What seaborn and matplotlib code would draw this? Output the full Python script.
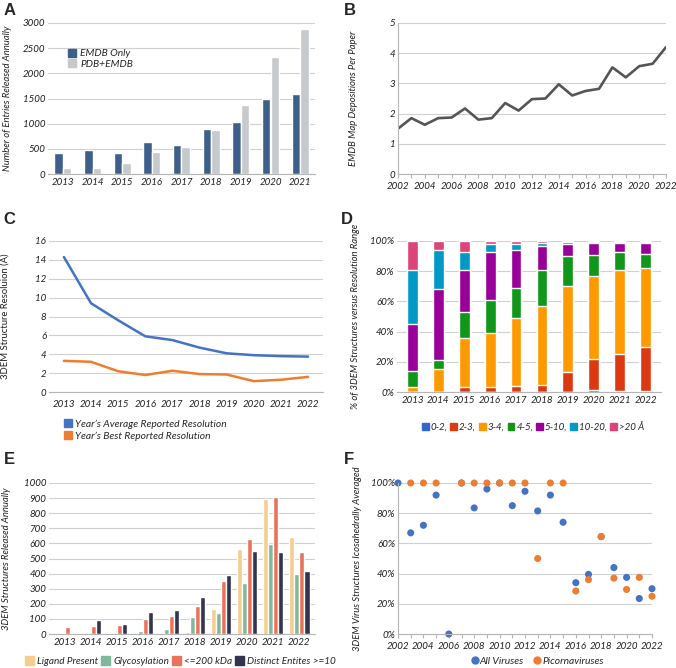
import numpy as np
import pandas as pd
import matplotlib
matplotlib.use("Agg")
import matplotlib.pyplot as plt
import seaborn as sns
from matplotlib.patches import Patch
from matplotlib.lines import Line2D
from matplotlib.ticker import FuncFormatter

sns.set_theme(style="white")
plt.rcParams['font.family'] = ['Lato', 'DejaVu Sans']

# ---------------- data ----------------
years_a = ["2013", "2014", "2015", "2016", "2017", "2018", "2019", "2020", "2021"]
emdb_only = [420, 480, 410, 630, 570, 890, 1040, 1490, 1590]
pdb_emdb = [110, 120, 220, 430, 530, 870, 1380, 2320, 2890]

years_b = list(range(2002, 2023))
dep_per_paper = [1.5, 1.85, 1.63, 1.85, 1.87, 2.17, 1.8, 1.85, 2.35, 2.1, 2.48,
                 2.5, 2.97, 2.6, 2.75, 2.82, 3.53, 3.2, 3.57, 3.65, 4.2]

years_c = list(range(2013, 2023))
avg_res = [14.3, 9.4, 7.6, 5.9, 5.5, 4.7, 4.1, 3.9, 3.8, 3.75]
best_res = [3.3, 3.2, 2.2, 1.8, 2.25, 1.9, 1.85, 1.15, 1.3, 1.6]

years_d = [str(y) for y in range(2013, 2023)]
res_labels = ["0-2,", "2-3,", "3-4,", "4-5,", "5-10,", "10-20,", ">20 Å"]
r0_2 = [0, 0, 0, 0, 0, 0, 0, 1, 0.5, 0.5]
r2_3 = [0, 0, 3, 3, 4, 4.5, 13, 21, 24.5, 29.5]
r3_4 = [3, 15, 33, 36, 45, 52.5, 57, 55, 56, 52]
r4_5 = [11, 6, 17, 22, 20, 24, 20, 13.5, 11.5, 9.5]
r5_10 = [31, 47, 28, 32, 25, 16, 8, 8, 6, 7.5]
r10_20 = [36, 26, 12, 5, 4, 2, 1.5, 1, 1, 0.5]
r20 = [19, 6, 7, 2, 2, 1, 0.5, 0.5, 0.5, 0.5]

years_e = [str(y) for y in range(2013, 2023)]
ligand = [0, 0, 0, 0, 0, 15, 168, 565, 893, 642]
glyco = [0, 0, 5, 18, 33, 110, 140, 338, 597, 398]
small200 = [45, 50, 62, 100, 117, 187, 350, 630, 908, 543]
distinct10 = [8, 90, 68, 145, 160, 245, 388, 548, 540, 418]

years_f = list(range(2002, 2023))
all_viruses = [100, 67, 72, 92, 0, 100, 83.5, 96, 100, 85, 94.5, 81.5, 92, 74,
               34, 39.5, 64.5, 44, 37.5, 23.5, 30]
picorna = [np.nan, 100, 100, 100, np.nan, 100, 100, 100, 100, 100, 100, 50, 100, 100,
           28.5, 36, 64.5, 37, 29.5, 37.5, 25]

# ---------------- layout ----------------
W, H = 676, 668
fig = plt.figure(figsize=(W / 100, H / 100), dpi=100)


def add_ax(l, r, t, b):
    return fig.add_axes([l / W, 1 - b / H, (r - l) / W, (b - t) / H])


FS = 7
LFS = 6.8
LEGFS = 7
GRID = '#d0d0d0'
SPINE = '#b5b5b5'
TXT = '#1e1e1e'


def style(ax, left_spine=False):
    ax.set_axisbelow(True)
    ax.yaxis.grid(True, color=GRID, lw=0.8)
    ax.xaxis.grid(False)
    for s in ['top', 'right']:
        ax.spines[s].set_visible(False)
    ax.spines['left'].set_visible(left_spine)
    ax.spines['left'].set_color(SPINE)
    ax.spines['bottom'].set_color(SPINE)
    ax.spines['bottom'].set_linewidth(0.8)
    ax.spines['left'].set_linewidth(0.8)
    ax.tick_params(axis='both', labelsize=FS, pad=2, length=0, colors=TXT)
    ax.tick_params(axis='x', pad=3)
    for lbl in ax.get_xticklabels() + ax.get_yticklabels():
        lbl.set_fontstyle('italic')


def ylab(ax, text, x, italic=True):
    ax.set_ylabel(text, fontsize=LFS, fontstyle='italic' if italic else 'normal', color=TXT)
    ax.yaxis.set_label_coords(x, 0.5)


# ---------- A ----------
axA = add_ax(48, 315, 23, 174)
dfA = pd.DataFrame({
    'year': years_a * 2,
    'value': emdb_only + pdb_emdb,
    'series': ['EMDB Only'] * len(years_a) + ['PDB+EMDB'] * len(years_a),
})
sns.barplot(data=dfA, x='year', y='value', hue='series', palette=['#3d5f8a', '#c6c9cd'],
            width=0.58, saturation=1, ax=axA, legend=False)
axA.set_ylim(0, 3000)
axA.set_yticks(range(0, 3001, 500))
axA.set_xlim(-0.5, 8.5)
axA.set_xlabel('')
style(axA)
ylab(axA, 'Number of Entries Released Annually', -0.135)
axA.legend(handles=[Patch(color='#3d5f8a', label='EMDB Only'), Patch(color='#c6c9cd', label='PDB+EMDB')],
           loc='upper left', bbox_to_anchor=(0.04, 0.89), frameon=False,
           handlelength=0.8, handleheight=0.8, handletextpad=0.4, labelspacing=0.1,
           prop={'style': 'italic', 'size': LEGFS + 0.4})

# ---------- B ----------
axB = add_ax(398, 666, 23, 174)
sns.lineplot(x=years_b, y=dep_per_paper, color='#555555', lw=1.9, ax=axB)
axB.set_ylim(0, 5)
axB.set_xlim(2002, 2022)
axB.set_xticks(range(2002, 2023, 2))
axB.set_yticks(range(0, 6))
style(axB, left_spine=True)
axB.set_xticks(range(2002, 2023, 1), minor=True)
axB.tick_params(axis='x', which='both', length=3, color=SPINE, width=0.8, bottom=True)
ylab(axB, 'EMDB Map Depositions Per Paper', -0.149)

# ---------- C ----------
axC = add_ax(49, 323, 241, 392)
dfC = pd.DataFrame({
    'year': years_c * 2,
    'res': avg_res + best_res,
    'series': ["Year's Average Reported Resolution"] * 10 + ["Year's Best Reported Resolution"] * 10,
})
sns.lineplot(data=dfC, x='year', y='res', hue='series', palette=['#4472c4', '#ed7d31'],
             lw=1.8, ax=axC, legend=False)
axC.set_xlim(2012.45, 2022.55)
axC.set_xticks(years_c)
axC.set_ylim(0, 16)
axC.set_yticks(range(0, 17, 2))
axC.set_xlabel('')
style(axC)
axC.tick_params(axis='x', length=3, color=SPINE, width=0.8)
ylab(axC, '3DEM Structure Resoluion (Å)', -0.142, italic=False)
axC.legend(handles=[Patch(color='#4472c4', label="Year\u2019s Average Reported Resolution"),
                    Patch(color='#ed7d31', label="Year\u2019s Best Reported Resolution")],
           loc='upper left', bbox_to_anchor=(0.02, -0.12), frameon=False,
           handlelength=0.8, handleheight=0.8, handletextpad=0.3, labelspacing=0.25,
           prop={'style': 'italic', 'size': LEGFS + 0.4})

# ---------- D ----------
axD = add_ax(397, 661, 241, 392)
cols_d = ['#3366cc', '#dc3912', '#ff9900', '#109618', '#990099', '#0099c6', '#dd4477']
series_d = [r0_2, r2_3, r3_4, r4_5, r5_10, r10_20, r20]
cum = np.cumsum(np.array(series_d), axis=0)
for k in range(len(series_d) - 1, -1, -1):
    sns.barplot(x=years_d, y=cum[k], color=cols_d[k], width=0.42, saturation=1, ax=axD)
axD.set_ylim(0, 100)
axD.set_xlim(-0.6, 9.6)
axD.set_yticks(range(0, 101, 20))
axD.yaxis.set_major_formatter(FuncFormatter(lambda v, p: f"{int(v)}%"))
style(axD)
ylab(axD, '% of 3DEM Structures versus Resolution Range', -0.14)
axD.legend(handles=[Patch(color=c, label=l) for c, l in zip(cols_d, res_labels)],
           loc='center', bbox_to_anchor=(0.515, -0.235), frameon=False, ncol=7,
           handlelength=0.7, handleheight=0.7, handletextpad=0.2, columnspacing=0.3,
           prop={'style': 'italic', 'size': LEGFS})

# ---------- E ----------
axE = add_ax(49, 315, 483, 634)
names_e = ['Ligand Present', 'Glycosylation', '<=200 kDa', 'Distinct Entites >=10']
cols_e = ['#f5cd8e', '#7fb89a', '#e8735a', '#33344f']
dfE = pd.DataFrame({
    'year': years_e * 4,
    'value': ligand + glyco + small200 + distinct10,
    'series': sum([[n] * 10 for n in names_e], []),
})
sns.barplot(data=dfE, x='year', y='value', hue='series', hue_order=names_e, palette=cols_e,
            width=0.78, saturation=1, ax=axE, legend=False)
axE.set_ylim(0, 1000)
axE.set_yticks(range(0, 1001, 100))
axE.set_xlim(-0.6, 9.6)
axE.set_xlabel('')
style(axE)
ylab(axE, '3DEM Structures Released Annually', -0.143)
axE.legend(handles=[Patch(color=c, label=l) for c, l in zip(cols_e, names_e)],
           loc='center', bbox_to_anchor=(0.495, -0.18), frameon=False, ncol=4,
           handlelength=0.9, handleheight=0.9, handletextpad=0.3, columnspacing=0.3,
           prop={'style': 'italic', 'size': LEGFS + 0.2})

# ---------- F ----------
axF = add_ax(398, 652, 483, 634)
sns.scatterplot(x=years_f, y=all_viruses, color='#4472c4', s=26, edgecolor='none', ax=axF, clip_on=False)
sns.scatterplot(x=years_f, y=picorna, color='#ed7d31', s=26, edgecolor='none', ax=axF, clip_on=False)
axF.set_ylim(0, 100)
axF.set_xlim(2002, 2022)
axF.set_xticks(range(2002, 2023, 2))
axF.set_yticks(range(0, 101, 20))
axF.yaxis.set_major_formatter(FuncFormatter(lambda v, p: f"{int(v)}%"))
style(axF, left_spine=True)
axF.set_xticks(range(2002, 2023, 1), minor=True)
axF.tick_params(axis='x', which='both', length=3, color=SPINE, width=0.8, bottom=True)
ylab(axF, '3DEM Virus Structures Icosahedrally Averaged', -0.142)
axF.legend(handles=[Line2D([], [], marker='o', ls='', color='#4472c4', markersize=5, label='All Viruses'),
                    Line2D([], [], marker='o', ls='', color='#ed7d31', markersize=5, label='Picornaviruses')],
           loc='center', bbox_to_anchor=(0.55, -0.18), frameon=False, ncol=2,
           handlelength=0.6, handletextpad=0.2, columnspacing=1.0,
           prop={'style': 'italic', 'size': LEGFS + 0.4})

# panel letters
for letter, x, y in [('A', 4, 3), ('B', 344, 3), ('C', 3, 212), ('D', 341, 212), ('E', 4, 452), ('F', 344, 452)]:
    fig.text(x / W, 1 - y / H, letter, fontsize=12, fontweight='bold', va='top', ha='left',
             family=['Liberation Sans', 'DejaVu Sans'])

fig.savefig('out.png', dpi=100, facecolor='white')
